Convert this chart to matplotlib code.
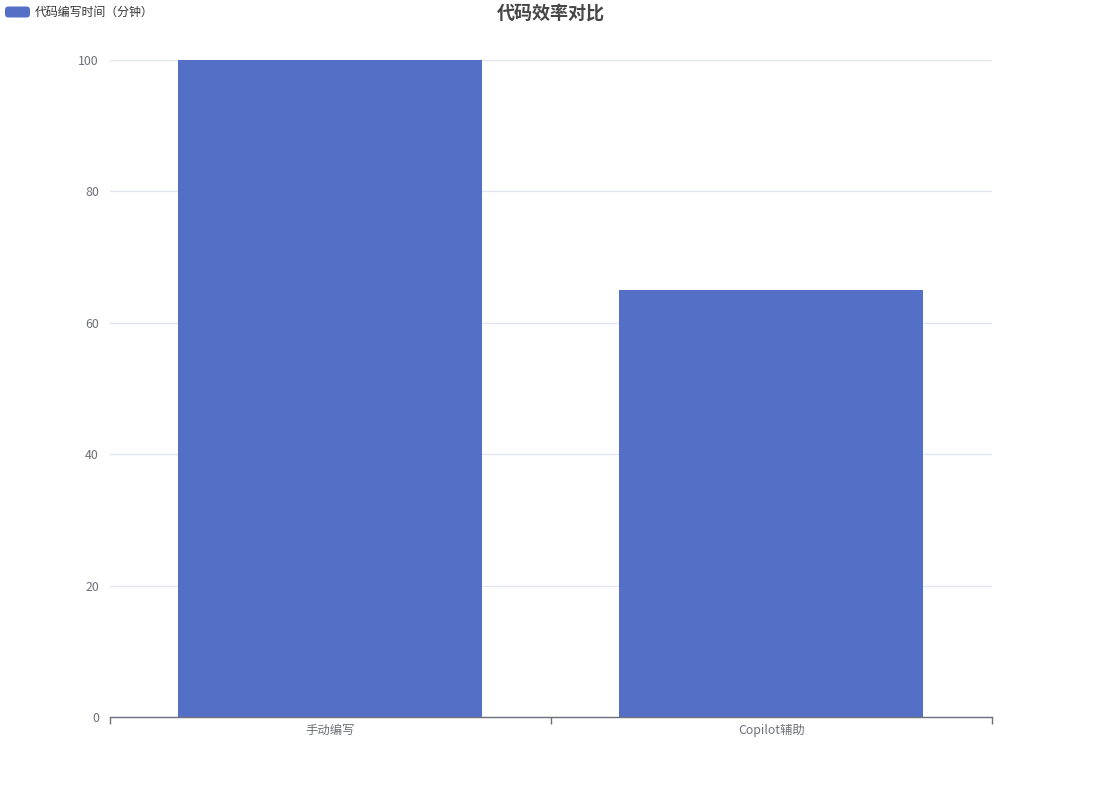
import matplotlib
matplotlib.use("Agg")
import matplotlib.pyplot as plt
from matplotlib.patches import FancyBboxPatch
from matplotlib.transforms import IdentityTransform

plt.rcParams['font.family'] = ['Noto Sans CJK SC', 'DejaVu Sans']

categories = ["手动编写", "Copilot辅助"]
values = [100, 65]
series_name = "代码编写时间（分钟）"
title = "代码效率对比"
yticks = [0, 20, 40, 60, 80, 100]

W, H = 1102, 787
fig = plt.figure(figsize=(W / 100, H / 100), dpi=100)
ax = fig.add_axes([110 / W, 1 - 717 / H, (992 - 110) / W, (717 - 60) / H])

bar_color = "#5470c6"
axis_color = "#6e7079"
grid_color = "#e0e6f1"

x = list(range(len(categories)))
ax.bar(x, values, width=304 / 441, color=bar_color, zorder=3)

ax.set_xlim(-0.5, len(categories) - 0.5)
ax.set_ylim(0, 100)
ax.set_yticks(yticks)
ax.set_yticklabels([str(v) for v in yticks])
ax.yaxis.grid(True, color=grid_color, linewidth=1, zorder=0)
ax.tick_params(axis='y', length=0, pad=8, labelsize=8.9, labelcolor=axis_color)

ax.set_xticks(x)
ax.set_xticklabels(categories)
ax.tick_params(axis='x', length=0, pad=5, labelsize=8.9, labelcolor=axis_color)
ax.set_xticks([-0.5, 0.5, 1.5], minor=True)
ax.tick_params(axis='x', which='minor', length=5, color=axis_color, width=1)

for side in ['top', 'right', 'left']:
    ax.spines[side].set_visible(False)
ax.spines['bottom'].set_color(axis_color)
ax.spines['bottom'].set_linewidth(1)
ax.spines['bottom'].set_zorder(4)

fig.text(551 / W, 1 - 13 / H, title, ha='center', va='center',
         fontsize=13, fontweight='bold', color='#464646')

# legend (pixel coordinates, origin bottom-left)
patch = FancyBboxPatch((5, H - 17.5), 25, 11,
                       boxstyle="round,pad=0,rounding_size=3.5",
                       transform=IdentityTransform(), facecolor=bar_color,
                       edgecolor='none')
fig.patches.append(patch)
fig.text(35 / W, 1 - 12 / H, series_name, ha='left', va='center',
         fontsize=8.6, color='#333333')

fig.savefig("out.png", dpi=100)
